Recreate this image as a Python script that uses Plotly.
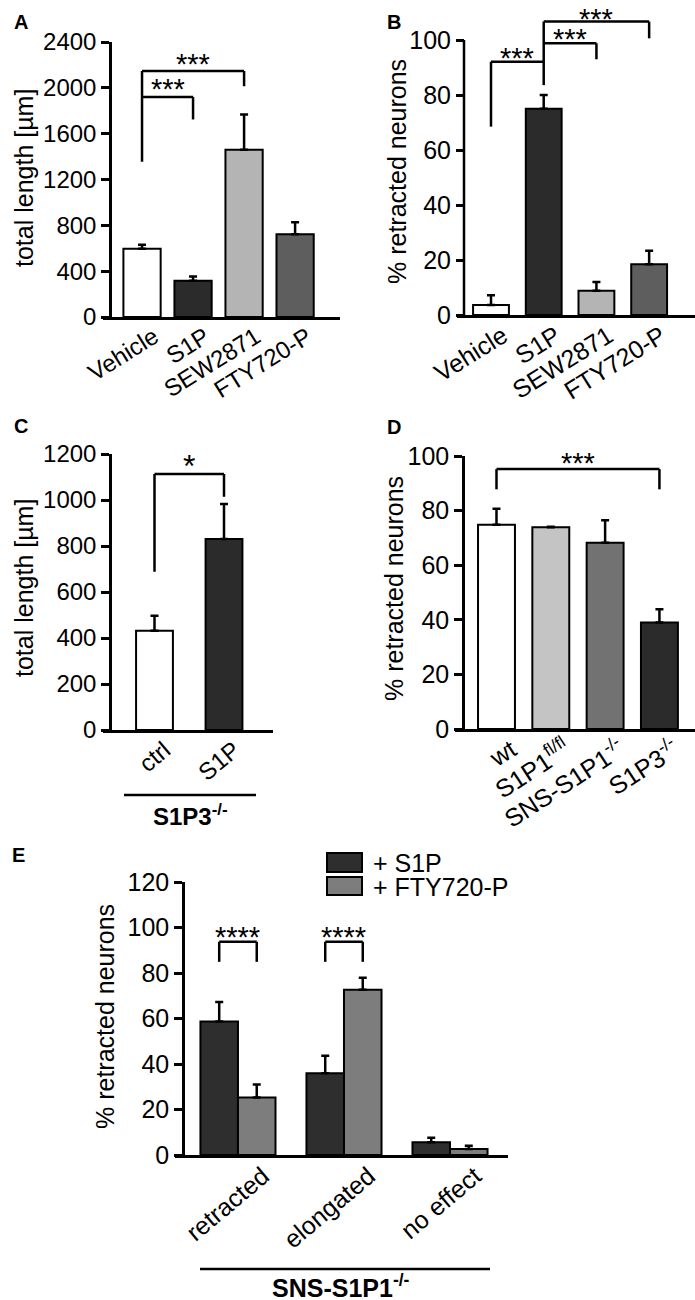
import plotly.graph_objects as go

W, H = 695, 1300
FONT = "Arial, 'Liberation Sans', Helvetica, sans-serif"


def px(x):
    return x / W


def py(y):
    return 1 - y / H


# ---------------- data ----------------
# Panel A
a_cats = ["Vehicle", "S1P", "SEW2871", "FTY720-P"]
a_vals = [595, 316, 1460, 723]
a_err = [35, 38, 307, 104]
a_ticks = [0, 400, 800, 1200, 1600, 2000, 2400]

# Panel B
b_cats = ["Vehicle", "S1P", "SEW2871", "FTY720-P"]
b_vals = [3.6, 75.0, 8.8, 18.5]
b_err = [3.6, 5.0, 3.2, 4.9]
b_ticks = [0, 20, 40, 60, 80, 100]

# Panel C
c_cats = ["ctrl", "S1P"]
c_vals = [432, 830]
c_err = [65, 153]
c_ticks = [0, 200, 400, 600, 800, 1000, 1200]

# Panel D
d_cats = ["wt", "S1P1<sup>fl/fl</sup>", "SNS-S1P1<sup>-/-</sup>", "S1P3<sup>-/-</sup>"]
d_vals = [74.8, 73.9, 68.2, 39.0]
d_err = [5.9, 0.2, 8.3, 4.9]
d_ticks = [0, 20, 40, 60, 80, 100]

# Panel E
e_cats = ["retracted", "elongated", "no effect"]
e_s1p = [58.7, 35.9, 5.6]
e_s1p_err = [8.6, 7.7, 2.0]
e_fty = [25.3, 72.6, 2.6]
e_fty_err = [5.7, 5.3, 1.5]
e_ticks = [0, 20, 40, 60, 80, 100, 120]

# ---------------- styles ----------------
abcolors = ["#ffffff", "#2b2b2b", "#b4b4b4", "#5e5e5e"]
ccolors = ["#ffffff", "#2b2b2b"]
dcolors = ["#ffffff", "#c4c4c4", "#727272", "#2b2b2b"]
E_S1P_COLOR = "#2e2e2e"
E_FTY_COLOR = "#7d7d7d"
LW = 2.5


def err(arr):
    return dict(type="data", array=arr, arrayminus=[0] * len(arr), symmetric=False,
                color="black", thickness=LW, width=4)


fig = go.Figure()

fig.add_trace(go.Bar(x=a_cats, y=a_vals, width=0.73, marker=dict(color=abcolors, line=dict(color="black", width=2)),
                     error_y=err(a_err), xaxis="x", yaxis="y", showlegend=False))
fig.add_trace(go.Bar(x=b_cats, y=b_vals, width=0.68, marker=dict(color=abcolors, line=dict(color="black", width=2)),
                     error_y=err(b_err), xaxis="x2", yaxis="y2", showlegend=False))
fig.add_trace(go.Bar(x=c_cats, y=c_vals, width=0.53, marker=dict(color=ccolors, line=dict(color="black", width=2)),
                     error_y=err(c_err), xaxis="x3", yaxis="y3", showlegend=False))
fig.add_trace(go.Bar(x=d_cats, y=d_vals, width=0.68, marker=dict(color=dcolors, line=dict(color="black", width=2)),
                     error_y=err(d_err), xaxis="x4", yaxis="y4", showlegend=False))
EW = 0.354
fig.add_trace(go.Bar(x=e_cats, y=e_s1p, width=EW, offset=-EW, name="+ S1P",
                     marker=dict(color=E_S1P_COLOR, line=dict(color="black", width=2)),
                     error_y=err(e_s1p_err), xaxis="x5", yaxis="y5", showlegend=False))
fig.add_trace(go.Bar(x=e_cats, y=e_fty, width=EW, offset=0, name="+ FTY720-P",
                     marker=dict(color=E_FTY_COLOR, line=dict(color="black", width=2)),
                     error_y=err(e_fty_err), xaxis="x5", yaxis="y5", showlegend=False))


def xax(domain, rng, anchor, angle, size, shift):
    return dict(domain=domain, range=rng, anchor=anchor, type="category", showline=True, linewidth=LW,
                linecolor="black", ticks="", showgrid=False, zeroline=False, tickangle=angle,
                automargin=False, ticklabelstandoff=-6, ticklabelshift=shift,
                tickfont=dict(size=size, color="black", family=FONT), fixedrange=True)


def yax(domain, rng, pos, ticks, size, showline=True):
    return dict(domain=domain, range=rng, anchor="free", position=pos, showline=showline, linewidth=LW,
                linecolor="black", ticks="outside", ticklen=8, tickwidth=LW, tickcolor="black",
                tickvals=ticks, showgrid=False, zeroline=False, automargin=False,
                tickfont=dict(size=size, color="black", family=FONT), fixedrange=True)


fig.update_layout(
    width=W, height=H, autosize=False,
    margin=dict(l=0, r=0, t=0, b=0, pad=0, autoexpand=False),
    paper_bgcolor="white", plot_bgcolor="white",
    font=dict(family=FONT, color="black", size=24),
    barmode="overlay", showlegend=False,
    xaxis=xax([px(103), px(340)], [-0.765, 3.88], "y", -32, 24, 12),
    yaxis=yax([py(317), py(42)], [0, 2400], px(110), a_ticks, 24),
    xaxis2=xax([px(457), 1.0], [-0.645, 3.87], "y2", -32, 25, 12),
    yaxis2=yax([py(315), py(7)], [0, 112], px(464), b_ticks, 25, showline=False),
    xaxis3=xax([px(103), px(273)], [-0.741, 1.705], "y3", -40, 24, 10),
    yaxis3=yax([py(730), py(454)], [0, 1200], px(110), c_ticks, 24),
    xaxis4=xax([px(455), 1.0], [-0.764, 3.655], "y4", -33, 25, 15),
    yaxis4=yax([py(729), py(456)], [0, 100], px(463), d_ticks, 25),
    xaxis5=xax([px(175), px(508)], [-0.594, 2.547], "y5", -40, 25, 25),
    yaxis5=yax([py(1155), py(882)], [0, 120], px(183), e_ticks, 25),
)

shapes = []


def seg(xr, yr, x0, y0, x1, y1):
    shapes.append(dict(type="line", xref=xr, yref=yr, x0=x0, y0=y0, x1=x1, y1=y1,
                       line=dict(color="black", width=LW)))


# B y-axis line (stops at 100)
seg("paper", "y2", px(464), 0, px(464), 100)

# A brackets
seg("x", "y", 0, 1355, 0, 2147)
seg("x", "y", 0, 1921, 1, 1921)
seg("x", "y", 1, 1921, 1, 1724)
seg("x", "y", 0, 2147, 2, 2147)
seg("x", "y", 2, 2147, 2, 2014)

# B brackets
seg("x2", "y2", 0, 68.5, 0, 92.1)
seg("x2", "y2", 0, 92.1, 1, 92.1)
seg("x2", "y2", 1, 83.6, 1, 106.7)
seg("x2", "y2", 1, 98.8, 2, 98.8)
seg("x2", "y2", 2, 98.8, 2, 93.0)
seg("x2", "y2", 1, 106.7, 3, 106.7)
seg("x2", "y2", 3, 106.7, 3, 100.6)

# C bracket
seg("x3", "y3", 0, 688, 0, 1113)
seg("x3", "y3", 0, 1113, 1, 1113)
seg("x3", "y3", 1, 1113, 1, 1014)

# D bracket
seg("x4", "y4", 0, 87.8, 0, 95.2)
seg("x4", "y4", 0, 95.2, 3, 95.2)
seg("x4", "y4", 3, 95.2, 3, 87.8)

# E brackets
for g in (0, 1):
    seg("x5", "y5", g - EW / 2, 84.9, g - EW / 2, 93.7)
    seg("x5", "y5", g - EW / 2, 93.7, g + EW / 2, 93.7)
    seg("x5", "y5", g + EW / 2, 93.7, g + EW / 2, 84.9)

# group underlines
seg("paper", "paper", px(124), py(795), px(256), py(795))
seg("paper", "paper", px(200), py(1269), px(490), py(1269))

# E legend swatches
shapes.append(dict(type="rect", xref="paper", yref="paper", x0=px(327), x1=px(362), y0=py(872), y1=py(853),
                   fillcolor=E_S1P_COLOR, line=dict(color="black", width=2)))
shapes.append(dict(type="rect", xref="paper", yref="paper", x0=px(327), x1=px(362), y0=py(895), y1=py(877),
                   fillcolor=E_FTY_COLOR, line=dict(color="black", width=2)))

fig.update_layout(shapes=shapes)

ann = []


def txt(text, x, y, xr="paper", yr="paper", size=24, xanchor="center", yanchor="middle", angle=0):
    ann.append(dict(text=text, x=x, y=y, xref=xr, yref=yr, showarrow=False, xanchor=xanchor,
                    yanchor=yanchor, textangle=angle, font=dict(size=size, color="black", family=FONT)))


# stars
SS = 29
txt("***", 0.5, 1990, "x", "y", SS)
txt("***", 1.0, 2208, "x", "y", SS)
txt("***", 0.5, 93.5, "x2", "y2", SS)
txt("***", 1.5, 100.4, "x2", "y2", SS)
txt("***", 2.0, 107.7, "x2", "y2", SS)
txt("*", 0.5, 1148, "x3", "y3", 32)
txt("***", 1.5, 97.4, "x4", "y4", SS)
txt("****", 0, 95.8, "x5", "y5", SS)
txt("****", 1, 95.8, "x5", "y5", SS)

# axis titles
txt("total length [µm]", px(24), py(178), angle=-90, size=25)
txt("% retracted neurons", px(397), py(172), angle=-90, size=25)
txt("total length [µm]", px(24), py(588), angle=-90, size=25)
txt("% retracted neurons", px(394), py(589), angle=-90, size=25)
txt("% retracted neurons", px(105), py(1017), angle=-90, size=25)

# panel letters
txt("<b>A</b>", px(12), py(22), size=20, xanchor="left")
txt("<b>B</b>", px(385), py(22), size=20, xanchor="left")
txt("<b>C</b>", px(12), py(426), size=20, xanchor="left")
txt("<b>D</b>", px(385), py(427), size=20, xanchor="left")
txt("<b>E</b>", px(10), py(855), size=20, xanchor="left")

# group labels
txt("<b>S1P3<sup>-/-</sup></b>", px(190), py(815), size=24)
txt("<b>SNS-S1P1<sup>-/-</sup></b>", px(341), py(1286), size=25)

# legend text
txt("+ S1P", px(371), py(863), size=25, xanchor="left")
txt("+ FTY720-P", px(371), py(887), size=25, xanchor="left")

fig.update_layout(annotations=ann)

fig.write_html("out.html", config={"displayModeBar": False},
               post_script="document.body.style.margin='0';document.body.style.padding='0';")
